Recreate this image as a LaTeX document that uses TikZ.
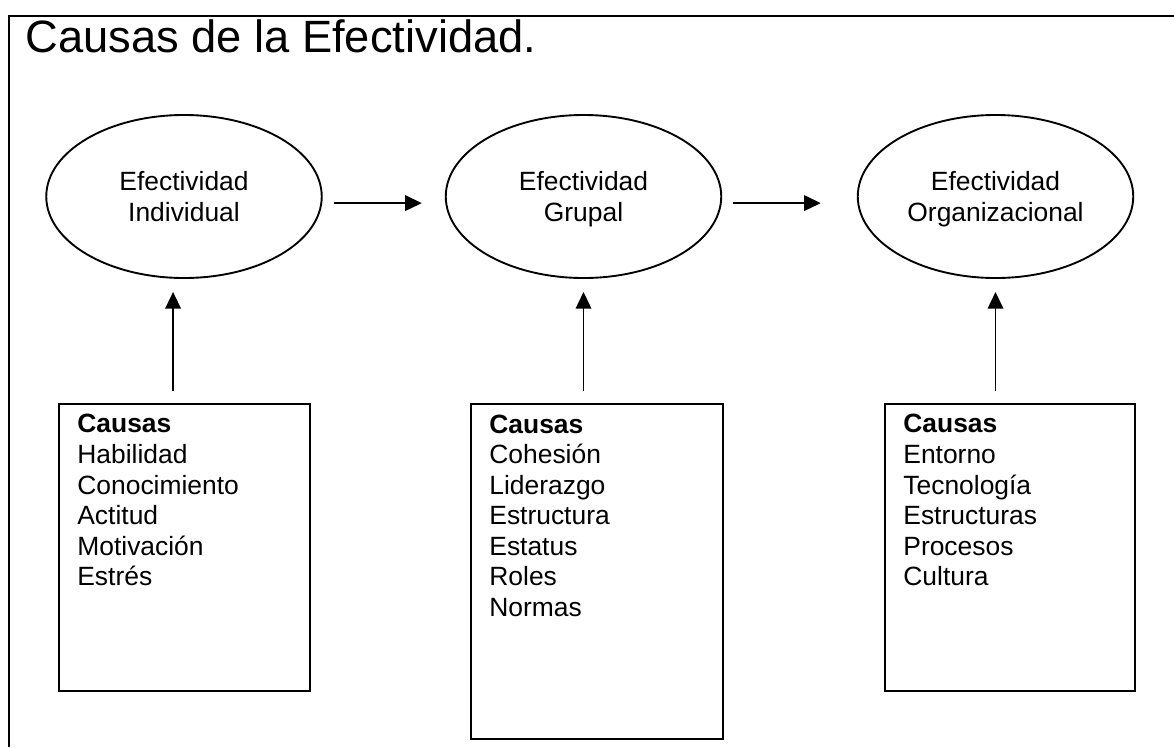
\documentclass[tikz,border=0pt]{standalone}
\usepackage{fontspec}
\setmainfont{Liberation Sans}
\usepackage{tikz}
\usetikzlibrary{arrows.meta, positioning, shapes, shadows}
\tikzstyle{effect} = [draw, ellipse, line width=1pt, inner sep=0pt, align=center,
    minimum width=146pt, minimum height=86.4pt, text depth=0pt,
    font=\fontsize{14pt}{16.2pt}\selectfont]
\tikzstyle{causebox} = [draw, rectangle, line width=1pt, fill=white, anchor=north west,
    drop shadow={shadow xshift=0.7pt, shadow yshift=-0.7pt, fill=black!45, opacity=1}]
\tikzstyle{causelist} = [anchor=base west, inner sep=0pt, align=left,
    font=\fontsize{14pt}{16.2pt}\selectfont]
\tikzstyle{arrow} = [-{Triangle[length=8.8pt, width=8.2pt]}, line width=1pt, black]
\tikzstyle{frame} = [line width=1pt]

\begin{document}
\begin{tikzpicture}[x=0.53pt, y=-0.53pt]
    \useasboundingbox (0,0) rectangle (1174,747);

    % Frame and title
    \draw [frame] (9,747) -- (9,15.7) -- (1174,15.7);
    \node [anchor=base west, inner sep=0pt, font=\fontsize{24pt}{28pt}\selectfont]
        (title) at (25,52) {Causas de la Efectividad.};

    % Place the ellipses
    \node [effect] (eI) at (184,196.5) {Efectividad\\Individual};
    \node [effect] (eII) at (583.5,196.5) {Efectividad\\Grupal};
    \node [effect] (eIII) at (995.5,196.5) {Efectividad\\Organizacional};

    % Place the boxes
    \node [causebox, minimum width=133pt, minimum height=152pt] (bI) at (58,403) {};
    \node [causebox, minimum width=133.6pt, minimum height=177.6pt] (bII) at (470,403) {};
    \node [causebox, minimum width=132.5pt, minimum height=152pt] (bIII) at (884,403) {};

    % Lists (anchored at the baseline of the last line)
    \node [causelist] (lI) at ([shift={(19,182.8)}]bI.north west)
        {\textbf{Causas}\\Habilidad\\Conocimiento\\Actitud\\Motivación\\Estrés};
    \node [causelist] (lII) at ([shift={(19,213.4)}]bII.north west)
        {\textbf{Causas}\\Cohesión\\Liderazgo\\Estructura\\Estatus\\Roles\\Normas};
    \node [causelist] (lIII) at ([shift={(19,182.8)}]bIII.north west)
        {\textbf{Causas}\\Entorno\\Tecnología\\Estructuras\\Procesos\\Cultura};

    % Connect the nodes
    \draw [arrow, shorten <=5.8pt, shorten >=12.2pt]
        ([yshift=-3.5pt]eI.east) -- ([yshift=-3.5pt]eII.west);
    \draw [arrow, shorten <=5.8pt, shorten >=19.1pt]
        ([yshift=-3.5pt]eII.east) -- ([yshift=-3.5pt]eIII.west);
    \draw [arrow, shorten <=6.4pt, shorten >=6.9pt]
        ([xshift=-5.8pt]eI.south |- bI.north) -- ([xshift=-5.8pt]eI.south);
    \draw [arrow, shorten <=6.4pt, shorten >=6.9pt]
        (eII.south |- bII.north) -- (eII.south);
    \draw [arrow, shorten <=6.4pt, shorten >=6.9pt]
        (eIII.south |- bIII.north) -- (eIII.south);
\end{tikzpicture}
\end{document}
